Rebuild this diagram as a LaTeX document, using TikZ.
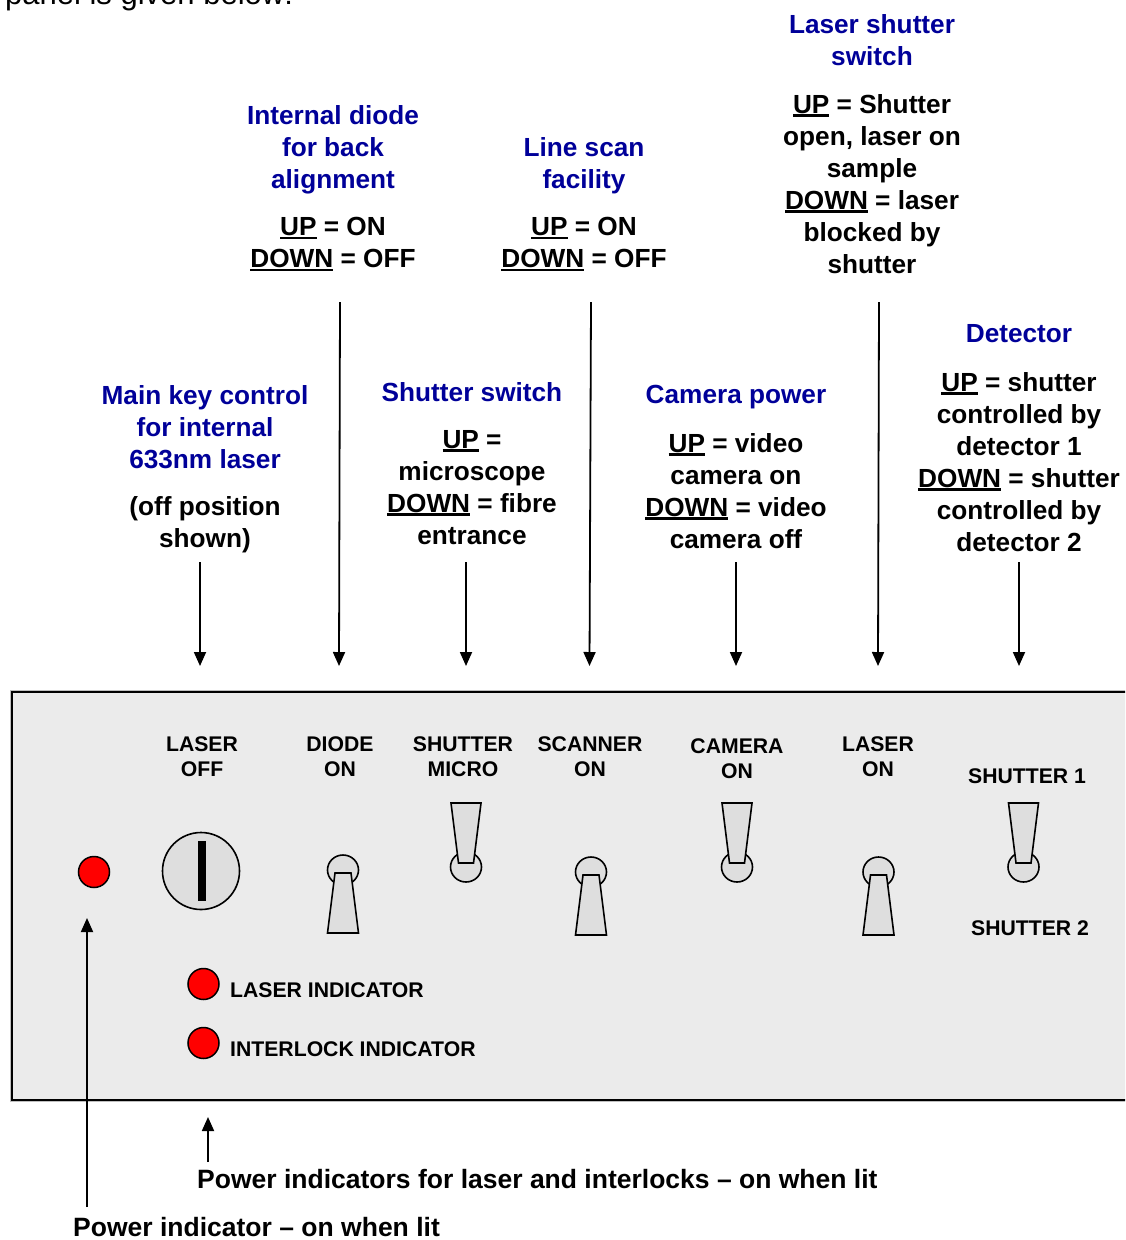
\documentclass[tikz,border=0pt]{standalone}
\usepackage{fontspec}
\setmainfont{Liberation Sans}
\usetikzlibrary{arrows.meta}
\definecolor{hblue}{RGB}{0,0,153}
\definecolor{panelgray}{RGB}{235,235,235}
\definecolor{partgray}{RGB}{222,222,222}
\definecolor{ledred}{RGB}{255,0,0}
\newcommand\myul[1]{\leavevmode\setbox0\hbox{#1}\rlap{\rule[-3.6pt]{\wd0}{2.5pt}}\box0\relax}
\begin{document}
\begin{tikzpicture}[x=1pt,y=-1pt,
  head/.style={font=\fontsize{26.2}{32}\selectfont\bfseries, text=hblue, align=center, inner sep=0pt, anchor=north},
  desc/.style={font=\fontsize{26.2}{32}\selectfont\bfseries, align=center, inner sep=0pt, anchor=north},
  plabel/.style={font=\fontsize{21.2}{25}\selectfont\bfseries, align=center, inner sep=0pt},
  note/.style={font=\fontsize{26.5}{32}\selectfont\bfseries, inner sep=0pt, anchor=base west},
  arr/.style={line width=1.8pt, -{Triangle[length=14pt,width=12pt]}},
  lever/.style={draw=black, line width=1.6pt, fill=partgray, line join=miter},
  led/.style={circle, draw=black, line width=1.5pt, fill=ledred, minimum size=31pt, inner sep=0pt},
  downsw/.pic={
    \draw[lever] (0,0) ellipse [x radius=15.5, y radius=15];
    \draw[lever] (-8,3) -- (8,3) -- (15.5,63) -- (-15.5,63) -- cycle;
  },
  upsw/.pic={
    \draw[lever] (0,0) ellipse [x radius=15.5, y radius=15];
    \draw[lever] (-15,-64) -- (15,-64) -- (7.5,-4) -- (-7.5,-4) -- cycle;
  }
]
\useasboundingbox (0,0) rectangle (1125,1240);
\clip (0,0) rectangle (1125,1240);

% cut-off line of text at the very top
\node[font=\fontsize{31}{36}\selectfont, inner sep=0pt, anchor=base west] (toptext) at (5,4) {panel is given below:};

% headings and descriptions
\node[head] (hdiode) at (333,105) {Internal diode\\for back\\alignment};
\node[desc] (ddiode) at (333,217) {\myul{UP} = ON\\\myul{DOWN} = OFF};

\node[head] (hscan) at (584,137) {Line scan\\facility};
\node[desc] (dscan) at (584,217) {\myul{UP} = ON\\\myul{DOWN} = OFF};

\node[head] (hlsh) at (872,14) {Laser shutter\\switch};
\node[desc] (dlsh) at (872,94) {\myul{UP} = Shutter\\open, laser on\\sample\\\myul{DOWN} = laser\\blocked by\\shutter};

\node[head] (hkey) at (205,385) {Main key control\\for internal\\633nm laser};
\node[desc] (dkey) at (205,496) {(off position\\shown)};

\node[head] (hshut) at (472,382) {Shutter switch};
\node[desc] (dshut) at (472,430) {\myul{UP} =\\microscope\\\myul{DOWN} = fibre\\entrance};

\node[head] (hcam) at (736,385) {Camera power};
\node[desc] (dcam) at (736,433) {\myul{UP} = video\\camera on\\\myul{DOWN} = video\\camera off};

\node[head] (hdet) at (1019,324) {Detector};
\node[desc] (ddet) at (1019,372) {\myul{UP} = shutter\\controlled by\\detector 1\\\myul{DOWN} = shutter\\controlled by\\detector 2};

% panel
\draw[draw=black!25, line width=1pt] (10,690) rectangle (1140,1101.5);
\draw[fill=panelgray, draw=black, line width=2.2pt] (12,692) rectangle (1140,1100);

% panel labels
\node[plabel] (lkey) at (202,756.5) {LASER\\OFF};
\node[plabel] (ldiode) at (340,756.5) {DIODE\\ON};
\node[plabel] (lmicro) at (463,756.5) {SHUTTER\\MICRO};
\node[plabel] (lscan) at (590,756.5) {SCANNER\\ON};
\node[plabel] (lcam) at (737,758.5) {CAMERA\\ON};
\node[plabel] (llaser) at (878,756.5) {LASER\\ON};
\node[plabel] (lsh1) at (1027,776) {SHUTTER 1};
\node[plabel] (lsh2) at (1030,928) {SHUTTER 2};
\node[plabel, anchor=west] (lind) at (230,990) {LASER INDICATOR};
\node[plabel, anchor=west] (iind) at (230,1049) {INTERLOCK INDICATOR};

% components
\node[led] (pled) at (94,872) {};
\node[circle, draw=black, line width=1.6pt, fill=partgray, minimum size=77pt, inner sep=0pt] (key) at (201,871) {};
\fill[black] (198,841) rectangle (206,901);
\pic at (343,870) {downsw};
\pic at (466,867) {upsw};
\pic at (591,872) {downsw};
\pic at (737,867) {upsw};
\pic at (878.5,872) {downsw};
\pic at (1023.5,867) {upsw};
\node[led] (lled) at (203.5,984) {};
\node[led] (iled) at (203.5,1043) {};

% arrows from the descriptions to the panel
\coordinate (akeyS) at (200,562);   \coordinate (akeyE) at (200,666);
\coordinate (adioS) at (340,302);   \coordinate (adioE) at (339,666);
\coordinate (ashS)  at (466,562);   \coordinate (ashE)  at (466,666);
\coordinate (ascS)  at (591,302);   \coordinate (ascE)  at (589.5,666);
\coordinate (acamS) at (736,562);   \coordinate (acamE) at (736,666);
\coordinate (alsS)  at (879,302);   \coordinate (alsE)  at (878,666);
\coordinate (adetS) at (1019,562);  \coordinate (adetE) at (1019,666);
\draw[arr] (akeyS) -- (akeyE);
\draw[arr] (adioS) -- (adioE);
\draw[arr] (ashS) -- (ashE);
\draw[arr] (ascS) -- (ascE);
\draw[arr] (acamS) -- (acamE);
\draw[arr] (alsS) -- (alsE);
\draw[arr] (adetS) -- (adetE);

% bottom notes
\node[note] (npis) at (197,1188) {Power indicators for laser and interlocks -- on when lit};
\node[note] (npi) at (73,1236.5) {Power indicator -- on when lit};
\coordinate (pwS) at (87,1207);   \coordinate (pwE) at (87,918);
\coordinate (pisS) at (208,1162); \coordinate (pisE) at (208,1117);
\draw[arr] (pwS) -- (pwE);
\draw[arr] (pisS) -- (pisE);
\end{tikzpicture}
\end{document}
